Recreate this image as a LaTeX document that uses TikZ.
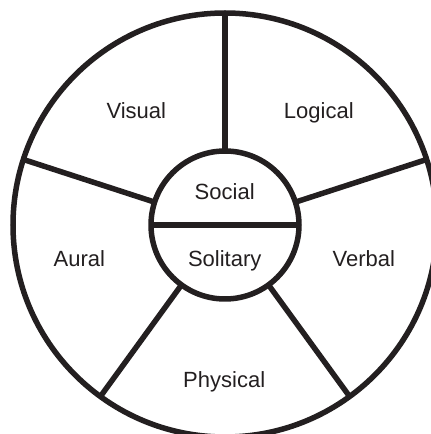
\documentclass[tikz,border=0pt]{standalone}
\usepackage{fontspec}
\setmainfont{Liberation Sans}
\usetikzlibrary{calc}
\definecolor{ink}{HTML}{231F20}
\begin{document}
\begin{tikzpicture}[x=1pt,y=1pt,
  ring/.style={draw=ink,line width=5.5pt},
  lbl/.style={text=ink,font=\fontsize{22}{26}\selectfont,anchor=base,inner sep=0pt}]
\useasboundingbox (0,0) rectangle (431,434);
\coordinate (c) at (225,209);
\begin{scope}
\clip (0,0) rectangle (431,434);
\draw[ring] (c) circle (212);
\foreach \a in {90,162,18,234,306}{
  \draw[ring] ($(c)+(\a:74)$) -- ($(c)+(\a:212)$);
}
\draw[ring,fill=white] (c) circle (74);
\draw[ring] ($(c)+(-74,0)$) -- ($(c)+(74,0)$);
\end{scope}
\node[lbl] (visual) at (136.3,315.7) {Visual};
\node[lbl] (logical) at (318.8,315.7) {Logical};
\node[lbl] (social) at (224.7,234) {Social};
\node[lbl] (solitary) at (224.7,167.3) {Solitary};
\node[lbl] (aural) at (79.3,167.3) {Aural};
\node[lbl] (verbal) at (363.8,167.3) {Verbal};
\node[lbl] (physical) at (224.2,46.7) {Physical};
\end{tikzpicture}
\end{document}
